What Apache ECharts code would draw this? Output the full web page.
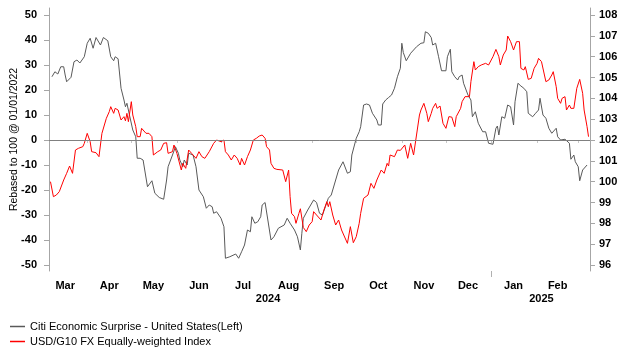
<!DOCTYPE html>
<html><head><meta charset="utf-8">
<script src="https://cdn.jsdelivr.net/npm/echarts@6/dist/echarts.min.js"></script>
<style>html,body{margin:0;padding:0;background:#fff}#c{width:626px;height:361px}</style>
</head><body><div id="c"></div>
<script>
const citiSeries = [
['2024-03-08',25.3],['2024-03-10',27.3],['2024-03-12',26.4],['2024-03-14',29.3],['2024-03-16',29.3],['2024-03-17',26],['2024-03-18',23.3],['2024-03-21',25.1],['2024-03-22',24.8],['2024-03-23',31.3],['2024-03-25',32],['2024-03-27',30.8],['2024-03-30',33.3],['2024-03-31',33.6],
['2024-04-01',38.7],['2024-04-03',40.7],['2024-04-05',36.7],['2024-04-07',41],['2024-04-10',38],['2024-04-12',41],['2024-04-13',40.7],['2024-04-15',39.7],['2024-04-16',39.7],['2024-04-17',33.3],['2024-04-19',31.7],['2024-04-20',33.3],['2024-04-22',32.5],['2024-04-24',20.7],['2024-04-25',20],['2024-04-26',16],['2024-04-27',13.3],['2024-04-28',14.7],['2024-04-29',14],['2024-04-30',9.3],
['2024-05-02',4],['2024-05-03',4],['2024-05-04',1.3],['2024-05-05',-7.3],['2024-05-07',-7.3],['2024-05-09',-8],['2024-05-12',-18.7],['2024-05-15',-16.3],['2024-05-17',-21.3],['2024-05-20',-23],['2024-05-23',-23.7],['2024-05-25',-16],['2024-05-26',-10.7],['2024-05-29',-6],['2024-05-31',-2.7],
['2024-06-02',-5.3],['2024-06-03',-8],['2024-06-05',-10.7],['2024-06-06',-8],['2024-06-08',-10],['2024-06-09',-5.3],['2024-06-10',-6],['2024-06-12',-6],['2024-06-14',-10.7],['2024-06-16',-20],['2024-06-19',-22.7],['2024-06-21',-27.3],['2024-06-23',-26],['2024-06-25',-26.7],['2024-06-26',-29.3],['2024-06-28',-28.7],
['2024-07-01',-31.3],['2024-07-02',-30.7],['2024-07-03',-34.7],['2024-07-04',-47.3],['2024-07-07',-46.7],['2024-07-11',-45.6],['2024-07-13',-47.3],['2024-07-15',-44.7],['2024-07-17',-42],['2024-07-19',-36],['2024-07-21',-36.7],['2024-07-22',-30.7],['2024-07-24',-33.3],['2024-07-26',-32.7],['2024-07-28',-30.7],['2024-07-29',-26],['2024-07-31',-25],
['2024-08-01',-25.3],['2024-08-04',-40],['2024-08-06',-38.7],['2024-08-09',-35.3],['2024-08-13',-34],['2024-08-15',-31.3],['2024-08-17',-33.3],['2024-08-20',-36],['2024-08-22',-38.7],['2024-08-24',-44],['2024-08-25',-37.3],['2024-08-26',-31.3],['2024-08-29',-28],['2024-08-31',-26],
['2024-09-02',-24],['2024-09-04',-25],['2024-09-06',-29.3],['2024-09-08',-30],['2024-09-10',-26.7],['2024-09-12',-23.3],['2024-09-14',-22],['2024-09-15',-21.3],['2024-09-17',-16],['2024-09-19',-12],['2024-09-22',-8.7],['2024-09-23',-9.3],['2024-09-25',-13.3],['2024-09-27',-12.7],['2024-09-28',-6],['2024-09-29',-5.3],
['2024-10-01',0.7],['2024-10-03',3.3],['2024-10-04',5.3],['2024-10-06',14],['2024-10-08',14.4],['2024-10-10',14],['2024-10-12',10.7],['2024-10-15',8],['2024-10-16',6],['2024-10-18',6],['2024-10-19',14.4],['2024-10-21',16],['2024-10-23',17],['2024-10-25',18],['2024-10-27',20.7],['2024-10-29',25.3],['2024-10-31',28.7],
['2024-11-01',38.7],['2024-11-02',35],['2024-11-04',31.7],['2024-11-05',32],['2024-11-07',34.7],['2024-11-09',36],['2024-11-11',37.3],['2024-11-14',38.7],['2024-11-16',38.9],['2024-11-17',43.3],['2024-11-19',42.7],['2024-11-21',41],['2024-11-22',38],['2024-11-24',38.7],['2024-11-26',33.3],['2024-11-28',27.7],
['2024-12-01',27.7],['2024-12-02',33.3],['2024-12-04',36.3],['2024-12-05',27.3],['2024-12-07',25.3],['2024-12-09',24],['2024-12-10',25.3],['2024-12-12',26],['2024-12-13',22.7],['2024-12-16',18],['2024-12-18',16],['2024-12-19',9.3],['2024-12-21',11.3],['2024-12-23',6.7],['2024-12-26',3.3],['2024-12-28',3.3],['2024-12-29',2.7],['2024-12-30',-1.3],
['2025-01-02',-1.7],['2025-01-03',-1.3],['2025-01-04',4.7],['2025-01-05',5.6],['2025-01-06',2],['2025-01-08',9.3],['2025-01-10',8.7],['2025-01-12',14],['2025-01-14',13.3],['2025-01-16',6],['2025-01-17',15.3],['2025-01-19',22.7],['2025-01-21',21.6],['2025-01-23',20.7],['2025-01-25',19.3],['2025-01-26',10.7],['2025-01-29',9.3],['2025-01-31',10.7],
['2025-02-02',12],['2025-02-03',16.7],['2025-02-05',10],['2025-02-07',8.7],['2025-02-09',4.7],['2025-02-11',2.7],['2025-02-14',4.7],['2025-02-15',1.3],['2025-02-17',0],['2025-02-20',0.3],['2025-02-23',-1.3],['2025-02-24',-7.7],['2025-02-26',-6],['2025-02-27',-8.7],
['2025-03-01',-10.7],['2025-03-02',-16.3],['2025-03-04',-12],['2025-03-05',-11.3],['2025-03-07',-10]
];
const usdSeries = [
['2024-03-07',100.0],['2024-03-09',99.28],['2024-03-11',99.36],['2024-03-13',99.52],['2024-03-14',99.45],['2024-03-16',100.08],['2024-03-18',100.4],['2024-03-20',100.75],['2024-03-22',100.4],['2024-03-24',101.52],['2024-03-26',101.6],['2024-03-29',101.68],['2024-03-30',101.84],
['2024-04-01',102.32],['2024-04-03',101.92],['2024-04-04',101.44],['2024-04-07',101.39],['2024-04-09',101.2],['2024-04-10',101.12],['2024-04-11',102.32],['2024-04-12',102.24],['2024-04-14',103.04],['2024-04-16',103.36],['2024-04-17',103.6],['2024-04-19',103.28],['2024-04-20',103.52],['2024-04-22',103.44],['2024-04-24',102.96],['2024-04-26',103.12],['2024-04-27',102.92],['2024-04-28',103.28],['2024-04-29',102.88],
['2024-05-01',103.84],['2024-05-02',103.2],['2024-05-04',102.64],['2024-05-05',102.16],['2024-05-07',102.16],['2024-05-08',102.56],['2024-05-09',102.5],['2024-05-11',102.32],['2024-05-13',102.32],['2024-05-15',102.16],['2024-05-16',101.28],['2024-05-19',101.44],['2024-05-21',101.52],['2024-05-23',101.84],['2024-05-25',101.87],['2024-05-26',101.36],['2024-05-29',101.44],['2024-05-30',101.76],
['2024-06-01',101.36],['2024-06-04',100.56],['2024-06-05',100.88],['2024-06-07',100.64],['2024-06-09',101.52],['2024-06-11',101.36],['2024-06-14',101.12],['2024-06-16',101.44],['2024-06-18',101.2],['2024-06-20',101.12],['2024-06-23',101.44],['2024-06-24',101.36],['2024-06-26',101.84],['2024-06-28',102.0],
['2024-07-01',101.92],['2024-07-03',102.0],['2024-07-04',101.44],['2024-07-06',101.28],['2024-07-08',101.04],['2024-07-10',101.28],['2024-07-12',101.12],['2024-07-14',100.8],['2024-07-15',101.12],['2024-07-17',100.8],['2024-07-19',101.2],['2024-07-21',101.52],['2024-07-23',102.0],['2024-07-25',102.08],['2024-07-27',102.19],['2024-07-29',102.24],['2024-07-31',102.08],
['2024-08-01',101.68],['2024-08-03',101.52],['2024-08-04',100.88],['2024-08-06',100.64],['2024-08-08',100.59],['2024-08-12',100.56],['2024-08-14',100.0],['2024-08-16',100.56],['2024-08-17',99.28],['2024-08-18',98.48],['2024-08-20',98.32],['2024-08-21',98.0],['2024-08-23',98.48],['2024-08-24',98.7],['2024-08-26',97.8],['2024-08-28',97.6],['2024-08-30',97.92],
['2024-09-01',98.08],['2024-09-02',98.56],['2024-09-04',98.4],['2024-09-07',98.16],['2024-09-09',98.64],['2024-09-11',99.04],['2024-09-12',98.8],['2024-09-13',99.04],['2024-09-15',98.4],['2024-09-17',97.92],['2024-09-19',98.16],['2024-09-21',97.68],['2024-09-25',97.04],['2024-09-27',97.84],['2024-09-29',97.07],
['2024-10-01',97.36],['2024-10-03',98.0],['2024-10-04',98.48],['2024-10-06',99.2],['2024-10-09',99.36],['2024-10-11',99.92],['2024-10-13',99.68],['2024-10-15',100.08],['2024-10-16',100.08],['2024-10-18',100.56],['2024-10-20',100.4],['2024-10-22',100.88],['2024-10-23',100.75],['2024-10-24',101.28],['2024-10-27',101.2],['2024-10-29',101.52],['2024-10-31',101.5],
['2024-11-03',101.76],['2024-11-05',101.12],['2024-11-07',101.84],['2024-11-09',101.28],['2024-11-11',102.24],['2024-11-13',103.2],['2024-11-14',103.44],['2024-11-16',103.76],['2024-11-18',103.28],['2024-11-19',102.88],['2024-11-21',103.28],['2024-11-22',103.52],['2024-11-24',103.76],['2024-11-25',103.52],['2024-11-27',103.63],['2024-11-29',102.8],['2024-11-30',102.8],
['2024-12-01',102.56],['2024-12-03',103.12],['2024-12-05',103.1],['2024-12-06',103.12],['2024-12-07',102.64],['2024-12-08',103.12],['2024-12-11',103.52],['2024-12-12',103.84],['2024-12-14',104.08],['2024-12-17',104.08],['2024-12-18',104.8],['2024-12-20',105.76],['2024-12-21',105.36],['2024-12-23',105.52],['2024-12-25',105.6],['2024-12-26',105.6],['2024-12-28',105.68],['2024-12-30',105.6],['2024-12-31',105.52],
['2025-01-02',106.0],['2025-01-03',105.92],['2025-01-04',106.35],['2025-01-06',106.0],['2025-01-07',105.6],['2025-01-09',106.08],['2025-01-11',106.32],['2025-01-12',106.99],['2025-01-14',106.72],['2025-01-16',106.32],['2025-01-17',106.24],['2025-01-18',106.72],['2025-01-20',106.72],['2025-01-21',105.44],['2025-01-23',105.36],['2025-01-24',105.52],['2025-01-26',104.91],['2025-01-28',104.96],['2025-01-30',105.44],
['2025-02-01',105.68],['2025-02-02',105.92],['2025-02-04',105.76],['2025-02-06',105.12],['2025-02-07',104.8],['2025-02-09',104.88],['2025-02-11',105.12],['2025-02-12',105.28],['2025-02-14',104.56],['2025-02-15',104.0],['2025-02-17',103.76],['2025-02-18',104.0],['2025-02-20',104.08],['2025-02-21',103.44],['2025-02-23',103.68],['2025-02-24',103.52],['2025-02-26',103.52],['2025-02-28',104.48],
['2025-03-02',104.91],['2025-03-04',104.24],['2025-03-05',103.44],['2025-03-07',102.64],['2025-03-08',102.16]
];
const seriesNames = ['Citi Economic Surprise - United States(Left)', 'USD/G10 FX Equally-weighted Index'];
const monthLabelDates = ['2024-03-17','2024-04-16','2024-05-16','2024-06-16','2024-07-16','2024-08-16','2024-09-16','2024-10-16','2024-11-16','2024-12-16','2025-01-16','2025-02-15'];
const monthTickDates = ['2024-04-01','2024-05-01','2024-06-01','2024-07-01','2024-08-01','2024-09-01','2024-10-01','2024-11-01','2024-12-01','2025-01-01','2025-02-01','2025-03-01'];
const monthNames = ['Jan','Feb','Mar','Apr','May','Jun','Jul','Aug','Sep','Oct','Nov','Dec'];
const yearLabelDates = ['2024-08-02','2025-02-04'];
const yearTickDates = ['2025-01-01'];
const leftTicks = [-50,-40,-30,-20,-10,0,10,20,30,40,50];
const rightTicks = [96,97,98,99,100,101,102,103,104,105,106,107,108];
const xRange = ['2024-03-06','2025-03-09'];

const ts = s => Date.UTC(+s.slice(0,4), +s.slice(5,7)-1, +s.slice(8,10));
const toData = arr => arr.map(p => [ts(p[0]), p[1]]);
const labelFont = {fontFamily:'Liberation Sans, Arial, sans-serif', fontSize:11, fontWeight:'bold', color:'#000'};
const axisGray = '#a6a6a6';

const chart = echarts.init(document.getElementById('c'), null, {renderer:'canvas'});
chart.setOption({
  animation:false,
  grid:{left:49, right:36, top:8, bottom:90, containLabel:false, outerBoundsMode:'none'},
  legend:{
    orient:'vertical', left:5, top:316, itemGap:4, itemWidth:15, itemHeight:1.5, icon:'rect',
    textStyle:{fontFamily:'Liberation Sans, Arial, sans-serif', fontSize:11, color:'#000'},
    data:seriesNames
  },
  xAxis:[{
    type:'value', min:ts(xRange[0]), max:ts(xRange[1]), position:'bottom',
    axisLine:{show:true, lineStyle:{color:axisGray}},
    axisTick:{show:true, length:3, lineStyle:{color:'#c8c8c8'}, customValues:monthTickDates.map(ts)},
    axisLabel:Object.assign({margin:9, customValues:monthLabelDates.map(ts),
      formatter:v => monthNames[new Date(v).getUTCMonth()]}, labelFont),
    splitLine:{show:false}
  },{
    type:'value', min:ts(xRange[0]), max:ts(xRange[1]), position:'bottom',
    axisLine:{show:false},
    axisTick:{show:true, length:6, lineStyle:{color:'#b0b0b0'}, customValues:yearTickDates.map(ts)},
    axisLabel:Object.assign({margin:22, customValues:yearLabelDates.map(ts),
      formatter:v => String(new Date(v).getUTCFullYear())}, labelFont),
    splitLine:{show:false}
  }],
  yAxis:[{
    type:'value', min:-52.4, max:52.8, position:'left',
    name:'Rebased to 100 @ 01/01/2022', nameLocation:'middle', nameGap:29, nameMoveOverlap:false,
    nameTextStyle:{fontFamily:'Liberation Sans, Arial, sans-serif', fontSize:10.5, color:'#000'},
    axisLine:{show:true, lineStyle:{color:axisGray}},
    axisTick:{show:true, length:5, lineStyle:{color:axisGray}, customValues:leftTicks},
    axisLabel:Object.assign({margin:12, customValues:leftTicks}, labelFont),
    splitLine:{show:false}
  },{
    type:'value', min:95.712, max:108.336, position:'right',
    axisLine:{show:true, lineStyle:{color:axisGray}},
    axisTick:{show:true, length:5, lineStyle:{color:axisGray}, customValues:rightTicks},
    axisLabel:Object.assign({margin:9, customValues:rightTicks}, labelFont),
    splitLine:{show:false}
  }],
  series:[{
    name:seriesNames[0], type:'line', xAxisIndex:0, yAxisIndex:0,
    data:toData(citiSeries), symbol:'none', smooth:false,
    lineStyle:{color:'#595959', width:1}, itemStyle:{color:'#595959'},
    markLine:{silent:true, symbol:'none', label:{show:false}, animation:false,
      lineStyle:{color:'#808080', type:'solid', width:1}, data:[{yAxis:0}]}
  },{
    name:seriesNames[1], type:'line', xAxisIndex:0, yAxisIndex:1,
    data:toData(usdSeries), symbol:'none', smooth:false,
    lineStyle:{color:'#ff0000', width:1}, itemStyle:{color:'#ff0000'}
  }]
});
</script></body></html>
